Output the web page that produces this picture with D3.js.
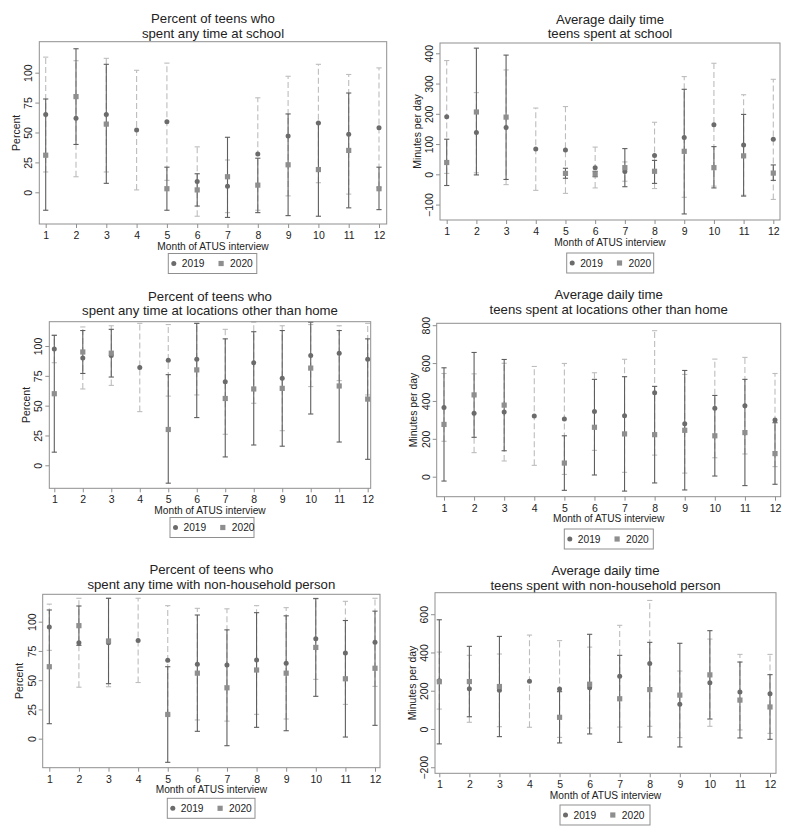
<!DOCTYPE html>
<html><head><meta charset="utf-8">
<script src="https://cdn.jsdelivr.net/npm/d3@7"></script>
<style>
body{margin:0;background:#fff}
svg{display:block}
text{font-family:"Liberation Sans",Arial,Helvetica,sans-serif;fill:#222}
</style>
</head><body>
<svg id="chart" width="791" height="838"></svg>
<script>
// ---------- data ----------
const months = [1,2,3,4,5,6,7,8,9,10,11,12];
const seriesNames = ["2019","2020"];

// Panel 1: percent of teens who spent any time at school
const schoolPct2019   = [65, 62, 65, 52, 59, 9, 5, 32, 47, 58, 48.5, 54];
const schoolPct2019Lo = [17, 13, 17, 2, 10, -20, -17, -15, -3, 8, -1.5, 4];
const schoolPct2019Hi = [113, 110, 112, 102, 108, 38, 27, 79, 97, 107, 98.5, 104];
const schoolPct2020   = [31, 80, 57, null, 3, 2, 13, 6, 23, 19, 35, 3];
const schoolPct2020Lo = [-15, 40, 7.5, null, -15, -11.5, -21, -17, -19.5, -20, -13, -14.5];
const schoolPct2020Hi = [78, 120, 107, null, 21, 15.5, 46, 28.5, 65.5, 58, 83, 21];

// Panel 2: average daily minutes at school
const schoolMin2019   = [190, 138, 155, 84, 80.5, 22, 9, 62, 122, 164, 97, 116];
const schoolMin2019Lo = [3, 5, -34, -53, -63, -45, -23, -47, -76, -39, -69, -83];
const schoolMin2019Hi = [376, 270, 345, 219, 224, 90, 41, 172, 323, 367, 263, 314];
const schoolMin2020   = [39, 206, 189, null, 3, 1, 22, 10, 76, 22, 61, 4];
const schoolMin2020Lo = [-37, -2, -17, null, -13, -8, -41, -30, -131, -45, -72, -20];
const schoolMin2020Hi = [116, 417, 394, null, 20, 10, 85, 46, 281, 91.5, 198, 31];

// Panel 3: percent at locations other than home
const awayPct2019   = [97.5, 90, 92, 82, 88, 89, 70, 86, 73, 92, 94, 89];
const awayPct2019Lo = [86, 64, 67, 45, 58, 59, 26, 52, 29, 66, 71, 59];
const awayPct2019Hi = [109, 116, 117, 119, 118, 119, 114, 120, 117, 118, 117, 119];
const awayPct2020   = [60, 95, 94, null, 30, 80, 56, 64, 64.5, 81.5, 66.5, 55.5];
const awayPct2020Lo = [11, 77, 74, null, -15, 40, 7, 17, 16, 43, 19.5, 5];
const awayPct2020Hi = [109, 113, 114, null, 76, 119, 106, 112, 113, 120, 113, 106];

// Panel 4: average daily minutes at locations other than home
const awayMin2019   = [366, 335, 341, 321, 305, 344, 322, 443, 280, 361, 374, 299];
const awayMin2019Lo = [187, 127, 83, 60, 12, 139, 23, 114, 19, 100, 120, 53];
const awayMin2019Hi = [545, 543, 599, 582, 598, 549, 620, 771, 540, 621, 630, 545];
const awayMin2020   = [276, 432, 378, null, 72, 261, 226, 222, 245, 216, 233, 122];
const awayMin2020Lo = [-23, 208, 137, null, -72, 9, -76, -33, -70, 3.5, -47, -40];
const awayMin2020Hi = [575, 656, 619, null, 216, 514, 528, 477, 561, 429, 514, 285];

// Panel 5: percent with non-household person
const nhhPct2019   = [95.4, 82, 82, 84, 67, 63.6, 63, 67.2, 64.4, 85.4, 73.3, 82.4];
const nhhPct2019Lo = [75.5, 44, 44.4, 48, 20.3, 16, 15, 20.8, 16.8, 50.7, 29.3, 44.7];
const nhhPct2019Hi = [115, 120, 120, 120, 113.7, 111.4, 111, 113.7, 112, 120, 117.4, 120];
const nhhPct2020   = [61.5, 96.6, 83.5, null, 20.7, 56, 43.5, 58.7, 56, 78, 51.2, 60.2];
const nhhPct2020Lo = [12.8, 79.8, 47, null, -20.2, 6.3, -6, 9.7, 6.8, 36.2, 1.4, 11.4];
const nhhPct2020Hi = [110, 113.4, 120, null, 61.5, 105.7, 93, 107.7, 105, 119.7, 101, 109];

// Panel 6: average daily minutes with non-household person
const nhhMin2019   = [252, 210, 202, 250, 209, 216, 276, 343, 129, 242, 193, 184];
const nhhMin2019Lo = [104, 35, 12, 9, -44, 5, 10, 14, -45, 14, -5, -23];
const nhhMin2019Hi = [402, 385, 392, 491, 462, 428, 542, 672, 303, 470, 390, 390];
const nhhMin2020   = [247, 248, 222, null, 61, 234, 158, 206, 177, 283, 151, 115];
const nhhMin2020Lo = [-78, 64, -40, null, -73, -26, -70, -42, -94, 52, -47, -54];
const nhhMin2020Hi = [571, 432, 484, null, 195, 495, 385, 453, 448, 514, 350, 284];

const pctTicks = [0, 25, 50, 75, 100];
const schoolMinTicks = [-100, 0, 100, 200, 300, 400];
const awayMinTicks = [0, 200, 400, 600, 800];
const nhhMinTicks = [-200, 0, 200, 400, 600];

const xTitle = "Month of ATUS interview";

// ---------- layout & style ----------
const C = {
  frame: "#8f8f8f",
  ci2019: "#bdbdbd",
  ci2020: "#5e5e5e",
  dot2019: "#6b6b6b",
  sq2020: "#8e8e8e"
};

const panels = [
  {title:["Percent of teens who","spent any time at school"], tb:[23.3,37.5], ytitle:"Percent",
   x0:39.3,x1:386.7,y0:41.7,y1:224, tx0:45.7,tx1:379, ydom:[-26.5,125.9], yticks:pctTicks,
   leg:{x:168.3,y:253.5,w:88.5,h:20},
   m19:schoolPct2019, lo19:schoolPct2019Lo, hi19:schoolPct2019Hi,
   m20:schoolPct2020, lo20:schoolPct2020Lo, hi20:schoolPct2020Hi},
  {title:["Average daily time","teens spent at school"], tb:[23.8,38], ytitle:"Minutes per day",
   x0:440,x1:780,y0:43,y1:220, tx0:446.7,tx1:773.3, ydom:[-151,434], yticks:schoolMinTicks,
   leg:{x:566.7,y:253,w:87,h:20},
   m19:schoolMin2019, lo19:schoolMin2019Lo, hi19:schoolMin2019Hi,
   m20:schoolMin2020, lo20:schoolMin2020Lo, hi20:schoolMin2020Hi},
  {title:["Percent of teens who","spent any time at locations other than home"], tb:[300.8,315], ytitle:"Percent",
   x0:49.3,x1:370.7,y0:321.7,y1:488.3, tx0:54.3,tx1:367.7, ydom:[-19.3,120.4], yticks:pctTicks,
   leg:{x:170,y:517.5,w:84,h:20},
   m19:awayPct2019, lo19:awayPct2019Lo, hi19:awayPct2019Hi,
   m20:awayPct2020, lo20:awayPct2020Lo, hi20:awayPct2020Hi},
  {title:["Average daily time","teens spent at locations other than home"], tb:[299.3,313.5], ytitle:"Minutes per day",
   x0:436.7,x1:780.7,y0:323.3,y1:496.7, tx0:444,tx1:775, ydom:[-105.6,810], yticks:awayMinTicks,
   leg:{x:564.3,y:529,w:89,h:20},
   m19:awayMin2019, lo19:awayMin2019Lo, hi19:awayMin2019Hi,
   m20:awayMin2020, lo20:awayMin2020Lo, hi20:awayMin2020Hi},
  {title:["Percent of teens who","spent any time with non-household person"], tb:[574.3,588.5], ytitle:"Percent",
   x0:42.7,x1:380,y0:594.3,y1:767.7, tx0:49.3,tx1:375, ydom:[-24.8,123.4], yticks:pctTicks,
   leg:{x:167.3,y:798.3,w:87.7,h:20},
   m19:nhhPct2019, lo19:nhhPct2019Lo, hi19:nhhPct2019Hi,
   m20:nhhPct2020, lo20:nhhPct2020Lo, hi20:nhhPct2020Hi},
  {title:["Average daily time","teens spent with non-household person"], tb:[575.3,589.5], ytitle:"Minutes per day",
   x0:435,x1:776,y0:592.7,y1:773.3, tx0:439.3,tx1:770, ydom:[-231.7,712.5], yticks:nhhMinTicks,
   leg:{x:560,y:805,w:90,h:20},
   m19:nhhMin2019, lo19:nhhMin2019Lo, hi19:nhhMin2019Hi,
   m20:nhhMin2020, lo20:nhhMin2020Lo, hi20:nhhMin2020Hi}
];

const svg = d3.select("#chart");
svg.append("rect").attr("width",791).attr("height",838).attr("fill","#fff");

const CAP = 2.6, R = 2.5, SQ = 5.2;

function drawCI(g, x, y, mean, lo, hi, color, dashed, cls) {
  const data = months.map((m,i)=>({m, v:mean[i], lo:lo[i], hi:hi[i]})).filter(d=>d.v!=null);
  const s = g.append("g").attr("class",cls);
  s.selectAll("line.v").data(data).enter().append("line").attr("class","v")
    .attr("x1",d=>x(d.m)).attr("x2",d=>x(d.m))
    .attr("y1",d=>y(d.lo)).attr("y2",d=>y(d.hi))
    .attr("stroke",color).attr("stroke-width",1.1)
    .attr("stroke-dasharray",dashed?"6,3":null);
  ["lo","hi"].forEach(k=>{
    s.selectAll("line.c"+k).data(data).enter().append("line").attr("class","c"+k)
      .attr("x1",d=>x(d.m)-CAP).attr("x2",d=>x(d.m)+CAP)
      .attr("y1",d=>y(d[k])).attr("y2",d=>y(d[k]))
      .attr("stroke",color).attr("stroke-width",1.1);
  });
  return data;
}

panels.forEach(p=>{
  const g = svg.append("g");
  const x = d3.scaleLinear().domain([1,12]).range([p.tx0,p.tx1]);
  const y = d3.scaleLinear().domain(p.ydom).range([p.y1,p.y0]);

  // titles
  const cx = (p.x0+p.x1)/2;
  p.title.forEach((t,i)=>{
    g.append("text").attr("x",cx).attr("y",p.tb[i]).attr("text-anchor","middle")
      .attr("font-size",13.2).text(t);
  });

  // x axis
  const xa = g.append("g").attr("transform",`translate(0,${p.y1})`)
    .call(d3.axisBottom(x).tickValues(months).tickSize(4).tickPadding(3).tickFormat(d3.format("d")));
  xa.select(".domain").remove();
  xa.selectAll(".tick line").attr("stroke",C.frame);
  xa.selectAll(".tick text").attr("font-size",10.5).attr("fill","#222")
    .attr("y",15).attr("dy",0);
  g.append("text").attr("x",cx).attr("y",p.y1+25.5).attr("text-anchor","middle")
    .attr("font-size",10.2).text(xTitle);

  // y axis
  const ya = g.append("g").attr("transform",`translate(${p.x0},0)`)
    .call(d3.axisLeft(y).tickValues(p.yticks).tickSize(4).tickFormat(d3.format("d")));
  ya.select(".domain").remove();
  ya.selectAll(".tick line").attr("stroke",C.frame);
  ya.selectAll(".tick text").attr("font-size",10.5).attr("fill","#222")
    .attr("transform","rotate(-90)").attr("x",0).attr("y",-7).attr("dy",0)
    .attr("text-anchor","middle");
  g.append("text").attr("transform",`translate(${p.x0-19.5},${(p.y0+p.y1)/2}) rotate(-90)`)
    .attr("text-anchor","middle").attr("font-size",10.5).text(p.ytitle);

  // CIs
  drawCI(g,x,y,p.m19,p.lo19,p.hi19,C.ci2019,true,"ci19");
  drawCI(g,x,y,p.m20,p.lo20,p.hi20,C.ci2020,false,"ci20");

  // markers
  const d19 = months.map((m,i)=>({m,v:p.m19[i]})).filter(d=>d.v!=null);
  const d20 = months.map((m,i)=>({m,v:p.m20[i]})).filter(d=>d.v!=null);
  g.selectAll("circle.p19").data(d19).enter().append("circle").attr("class","p19")
    .attr("cx",d=>x(d.m)).attr("cy",d=>y(d.v)).attr("r",R).attr("fill",C.dot2019);
  g.selectAll("rect.p20").data(d20).enter().append("rect").attr("class","p20")
    .attr("x",d=>x(d.m)-SQ/2).attr("y",d=>y(d.v)-SQ/2).attr("width",SQ).attr("height",SQ)
    .attr("fill",C.sq2020);

  // frame
  g.append("rect").attr("x",p.x0).attr("y",p.y0).attr("width",p.x1-p.x0).attr("height",p.y1-p.y0)
    .attr("fill","none").attr("stroke",C.frame).attr("stroke-width",1);

  // legend
  const L = p.leg;
  const lg = g.append("g").attr("transform",`translate(${L.x},${L.y})`);
  lg.append("rect").attr("width",L.w).attr("height",L.h).attr("fill","#fff")
    .attr("stroke",C.frame).attr("stroke-width",1);
  lg.append("circle").attr("cx",5.5).attr("cy",L.h/2).attr("r",R).attr("fill",C.dot2019);
  lg.append("text").attr("x",13.5).attr("y",L.h/2+3.7).attr("font-size",10.2).text(seriesNames[0]);
  lg.append("rect").attr("x",52.8-SQ/2).attr("y",L.h/2-SQ/2).attr("width",SQ).attr("height",SQ).attr("fill",C.sq2020);
  lg.append("text").attr("x",61.8).attr("y",L.h/2+3.7).attr("font-size",10.2).text(seriesNames[1]);
});
</script>
</body></html>
